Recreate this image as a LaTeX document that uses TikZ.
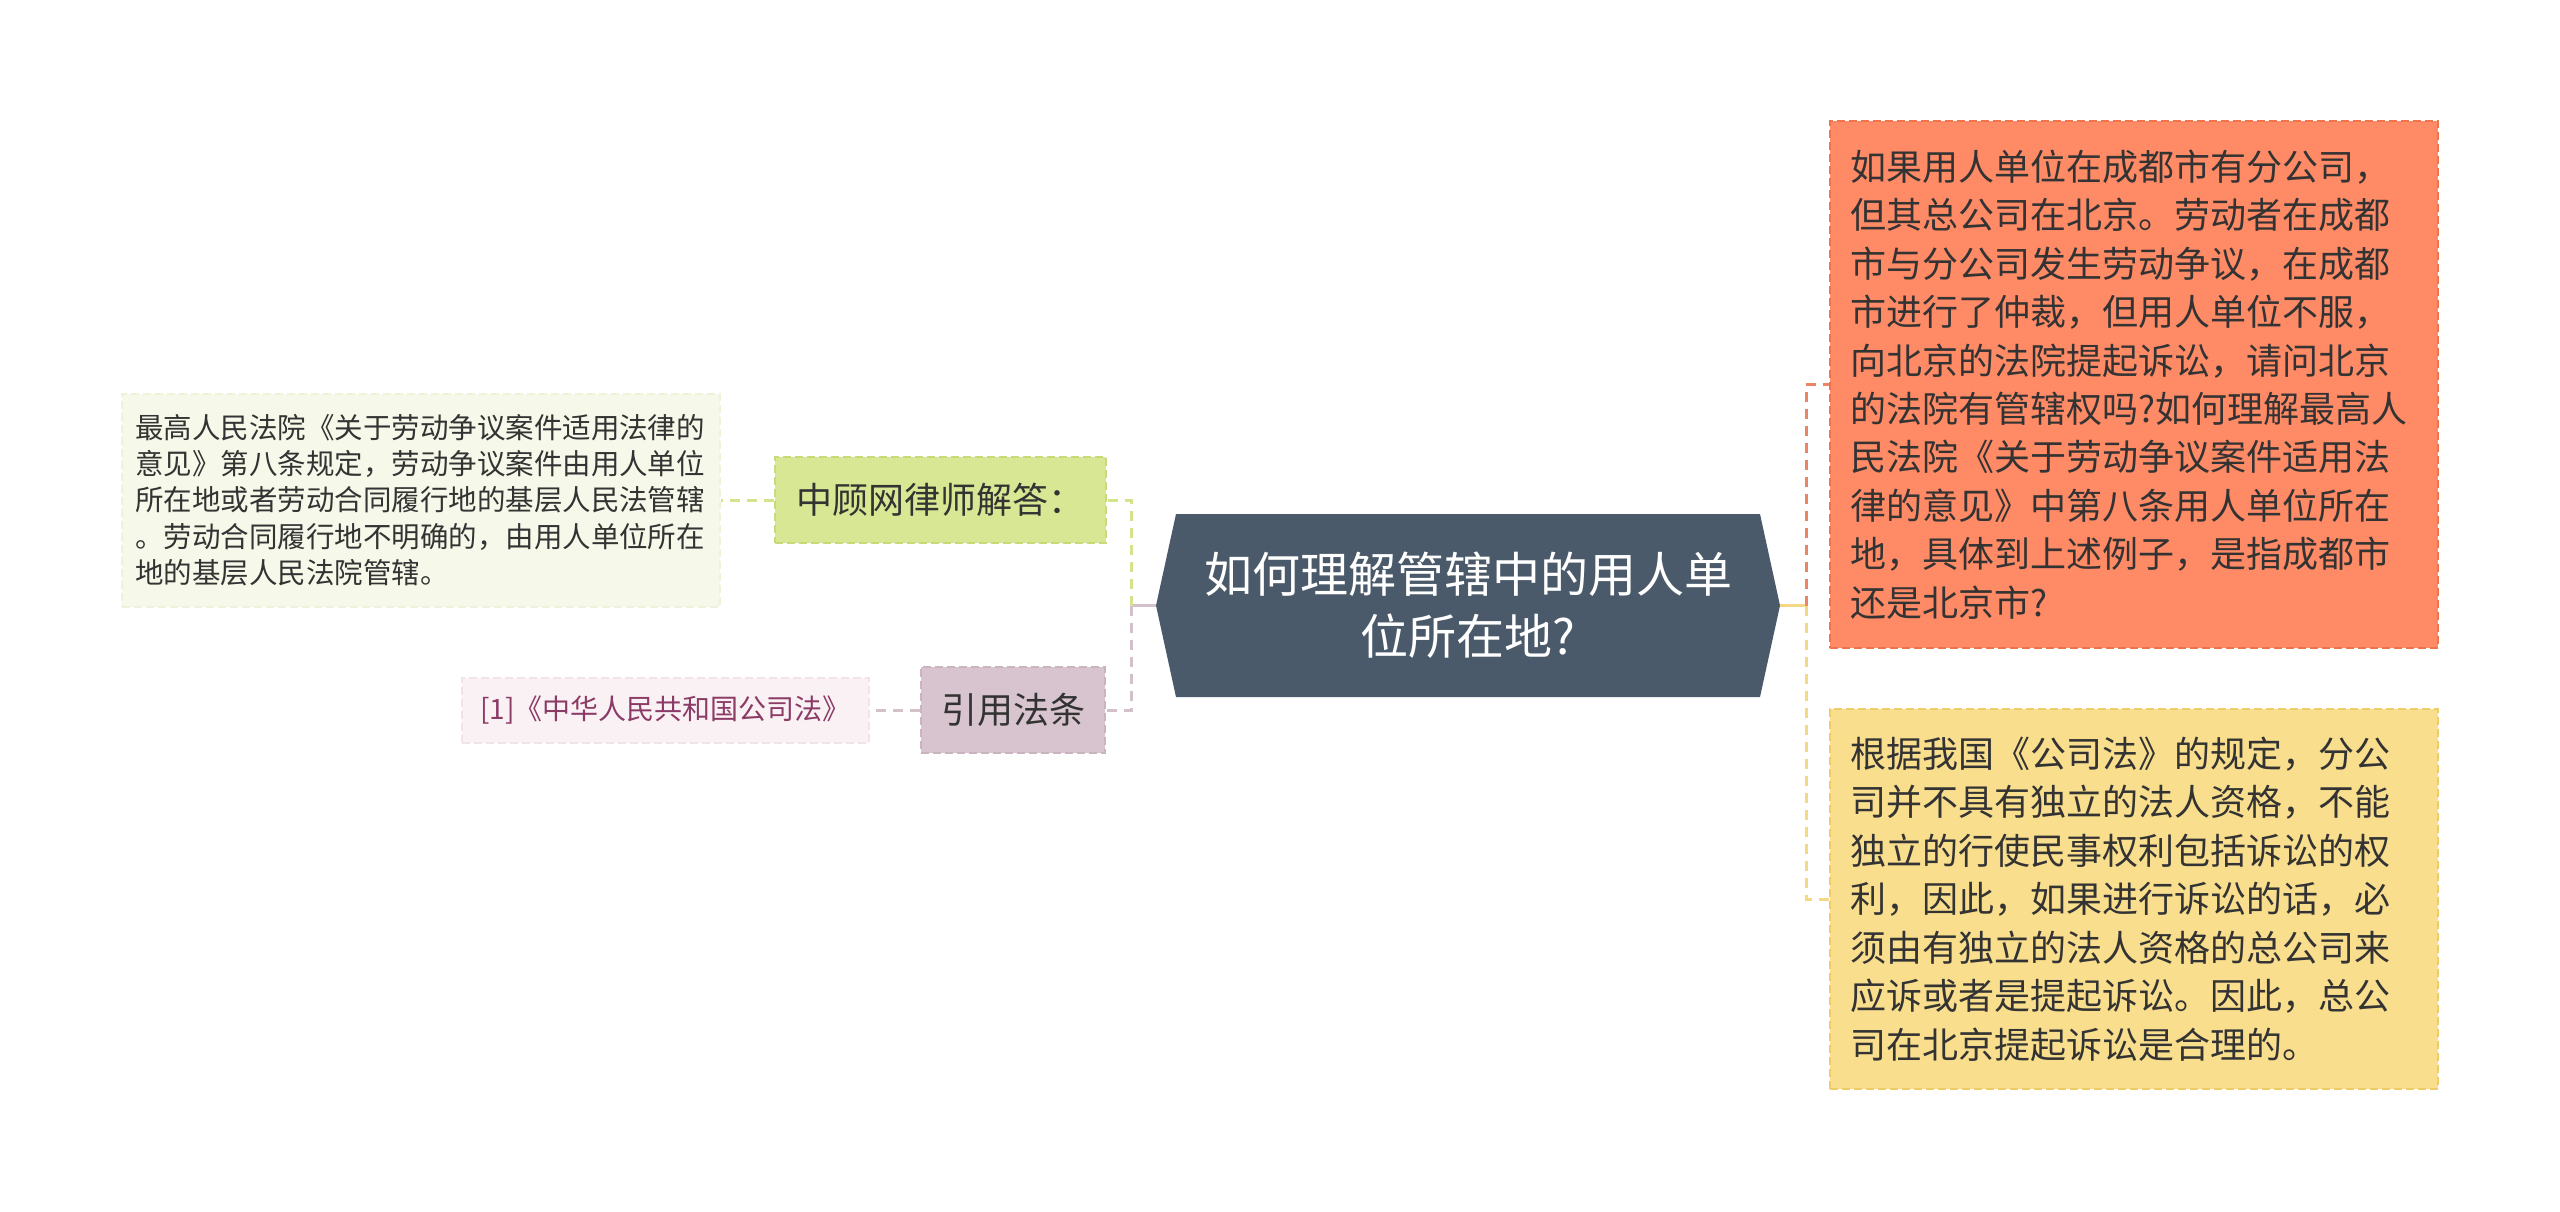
\documentclass[tikz,border=0pt]{standalone}
\usepackage{fontspec}
\setmainfont{Noto Sans CJK SC}
\definecolor{slate}{HTML}{4B5A6A}
\definecolor{txt}{HTML}{333333}
\definecolor{orfill}{HTML}{FF8A66}
\definecolor{orborder}{HTML}{F0734E}
\definecolor{yefill}{HTML}{F9DE8E}
\definecolor{yeborder}{HTML}{F0CC68}
\definecolor{grfill}{HTML}{D7E793}
\definecolor{grborder}{HTML}{C8DB7C}
\definecolor{ltfill}{HTML}{F6F9E9}
\definecolor{ltborder}{HTML}{EDF2D8}
\definecolor{mafill}{HTML}{D8C4CE}
\definecolor{maborder}{HTML}{CBB3C0}
\definecolor{pkfill}{HTML}{F9F1F4}
\definecolor{pkborder}{HTML}{F1E3EA}
\definecolor{plum}{HTML}{8C3B66}
\definecolor{lngreen}{HTML}{D4E48C}
\definecolor{lnmauve}{HTML}{D2C0CA}
\definecolor{lnorange}{HTML}{EE8466}
\definecolor{lnyellow}{HTML}{F4D883}
\tikzset{
  box/.style={rectangle, draw, dash pattern=on 8pt off 4pt, line width=2pt, inner sep=0pt, text=txt},
  para/.style={box, align=left, inner xsep=20pt, text width=568pt},
  conn/.style={line width=3pt},
  dconn/.style={line width=3pt, dash pattern=on 10pt off 7pt},
}
\begin{document}
\begin{tikzpicture}[x=1pt,y=-1pt]
\useasboundingbox (0,0) rectangle (2560,1211);

% central node
\node[minimum width=624pt, minimum height=183pt, inner sep=0pt, align=center, text=white,
      font=\fontsize{48}{62}\selectfont,
      path picture={\fill[slate] (path picture bounding box.west)
         -- ([xshift=20pt]path picture bounding box.north west)
         -- ([xshift=-20pt]path picture bounding box.north east)
         -- (path picture bounding box.east)
         -- ([xshift=-20pt]path picture bounding box.south east)
         -- ([xshift=20pt]path picture bounding box.south west) -- cycle;}]
  (ctr) at (1468,605.5) {如何理解管辖中的用人单\\位所在地?};

% right nodes
\node[para, draw=orborder, fill=orfill, minimum height=527pt,
      font=\fontsize{36}{48.4}\selectfont] (q) at (2134,384.5)
{如果用人单位在成都市有分公司，\\但其总公司在北京。劳动者在成都\\市与分公司发生劳动争议，在成都\\市进行了仲裁，但用人单位不服，\\向北京的法院提起诉讼，请问北京\\的法院有管辖权吗?如何理解最高人\\民法院《关于劳动争议案件适用法\\律的意见》中第八条用人单位所在\\地，具体到上述例子，是指成都市\\还是北京市?};

\node[para, draw=yeborder, fill=yefill, minimum height=380pt,
      font=\fontsize{36}{48.5}\selectfont] (a) at (2134,899)
{根据我国《公司法》的规定，分公\\司并不具有独立的法人资格，不能\\独立的行使民事权利包括诉讼的权\\利，因此，如果进行诉讼的话，必\\须由有独立的法人资格的总公司来\\应诉或者是提起诉讼。因此，总公\\司在北京提起诉讼是合理的。};

% left nodes
\node[box, draw=grborder, fill=grfill, minimum width=331pt, minimum height=86pt,
      font=\fontsize{36}{44}\selectfont] (zgw) at (940,500) {中顾网律师解答：};
\node[box, draw=maborder, fill=mafill, minimum width=184pt, minimum height=86pt,
      font=\fontsize{36}{44}\selectfont] (yyf) at (1013,710) {引用法条};

\node[box, draw=ltborder, fill=ltfill, align=left, inner xsep=13pt, text width=572pt,
      minimum height=213pt, font=\fontsize{28.5}{36.3}\selectfont] (detail) at (421,500)
{最高人民法院《关于劳动争议案件适用法律的\\意见》第八条规定，劳动争议案件由用人单位\\所在地或者劳动合同履行地的基层人民法管辖\\。劳动合同履行地不明确的，由用人单位所在\\地的基层人民法院管辖。};

\node[box, draw=pkborder, fill=pkfill, text=plum, minimum width=407pt, minimum height=65pt,
      font=\fontsize{28}{34}\selectfont] (law) at (665.5,710) {[1]《中华人民共和国公司法》};

% connectors
\coordinate (lj) at (1131,605.5);
\coordinate (rj) at (1806,605.5);
\draw[conn, lnmauve] (ctr.west) -- (lj);
\draw[dconn, lngreen] (lj) |- (zgw.east);
\draw[dconn, lnmauve] (lj) |- (yyf.east);
\draw[dconn, lngreen] (zgw.west) -- (detail.east);
\draw[dconn, lnmauve] (yyf.west) -- (law.east);

\draw[conn, lnyellow] (ctr.east) -- (rj);
\draw[dconn, lnorange] (rj) |- (q.west);
\draw[dconn, lnyellow] (rj) |- (a.west);
\end{tikzpicture}
\end{document}
